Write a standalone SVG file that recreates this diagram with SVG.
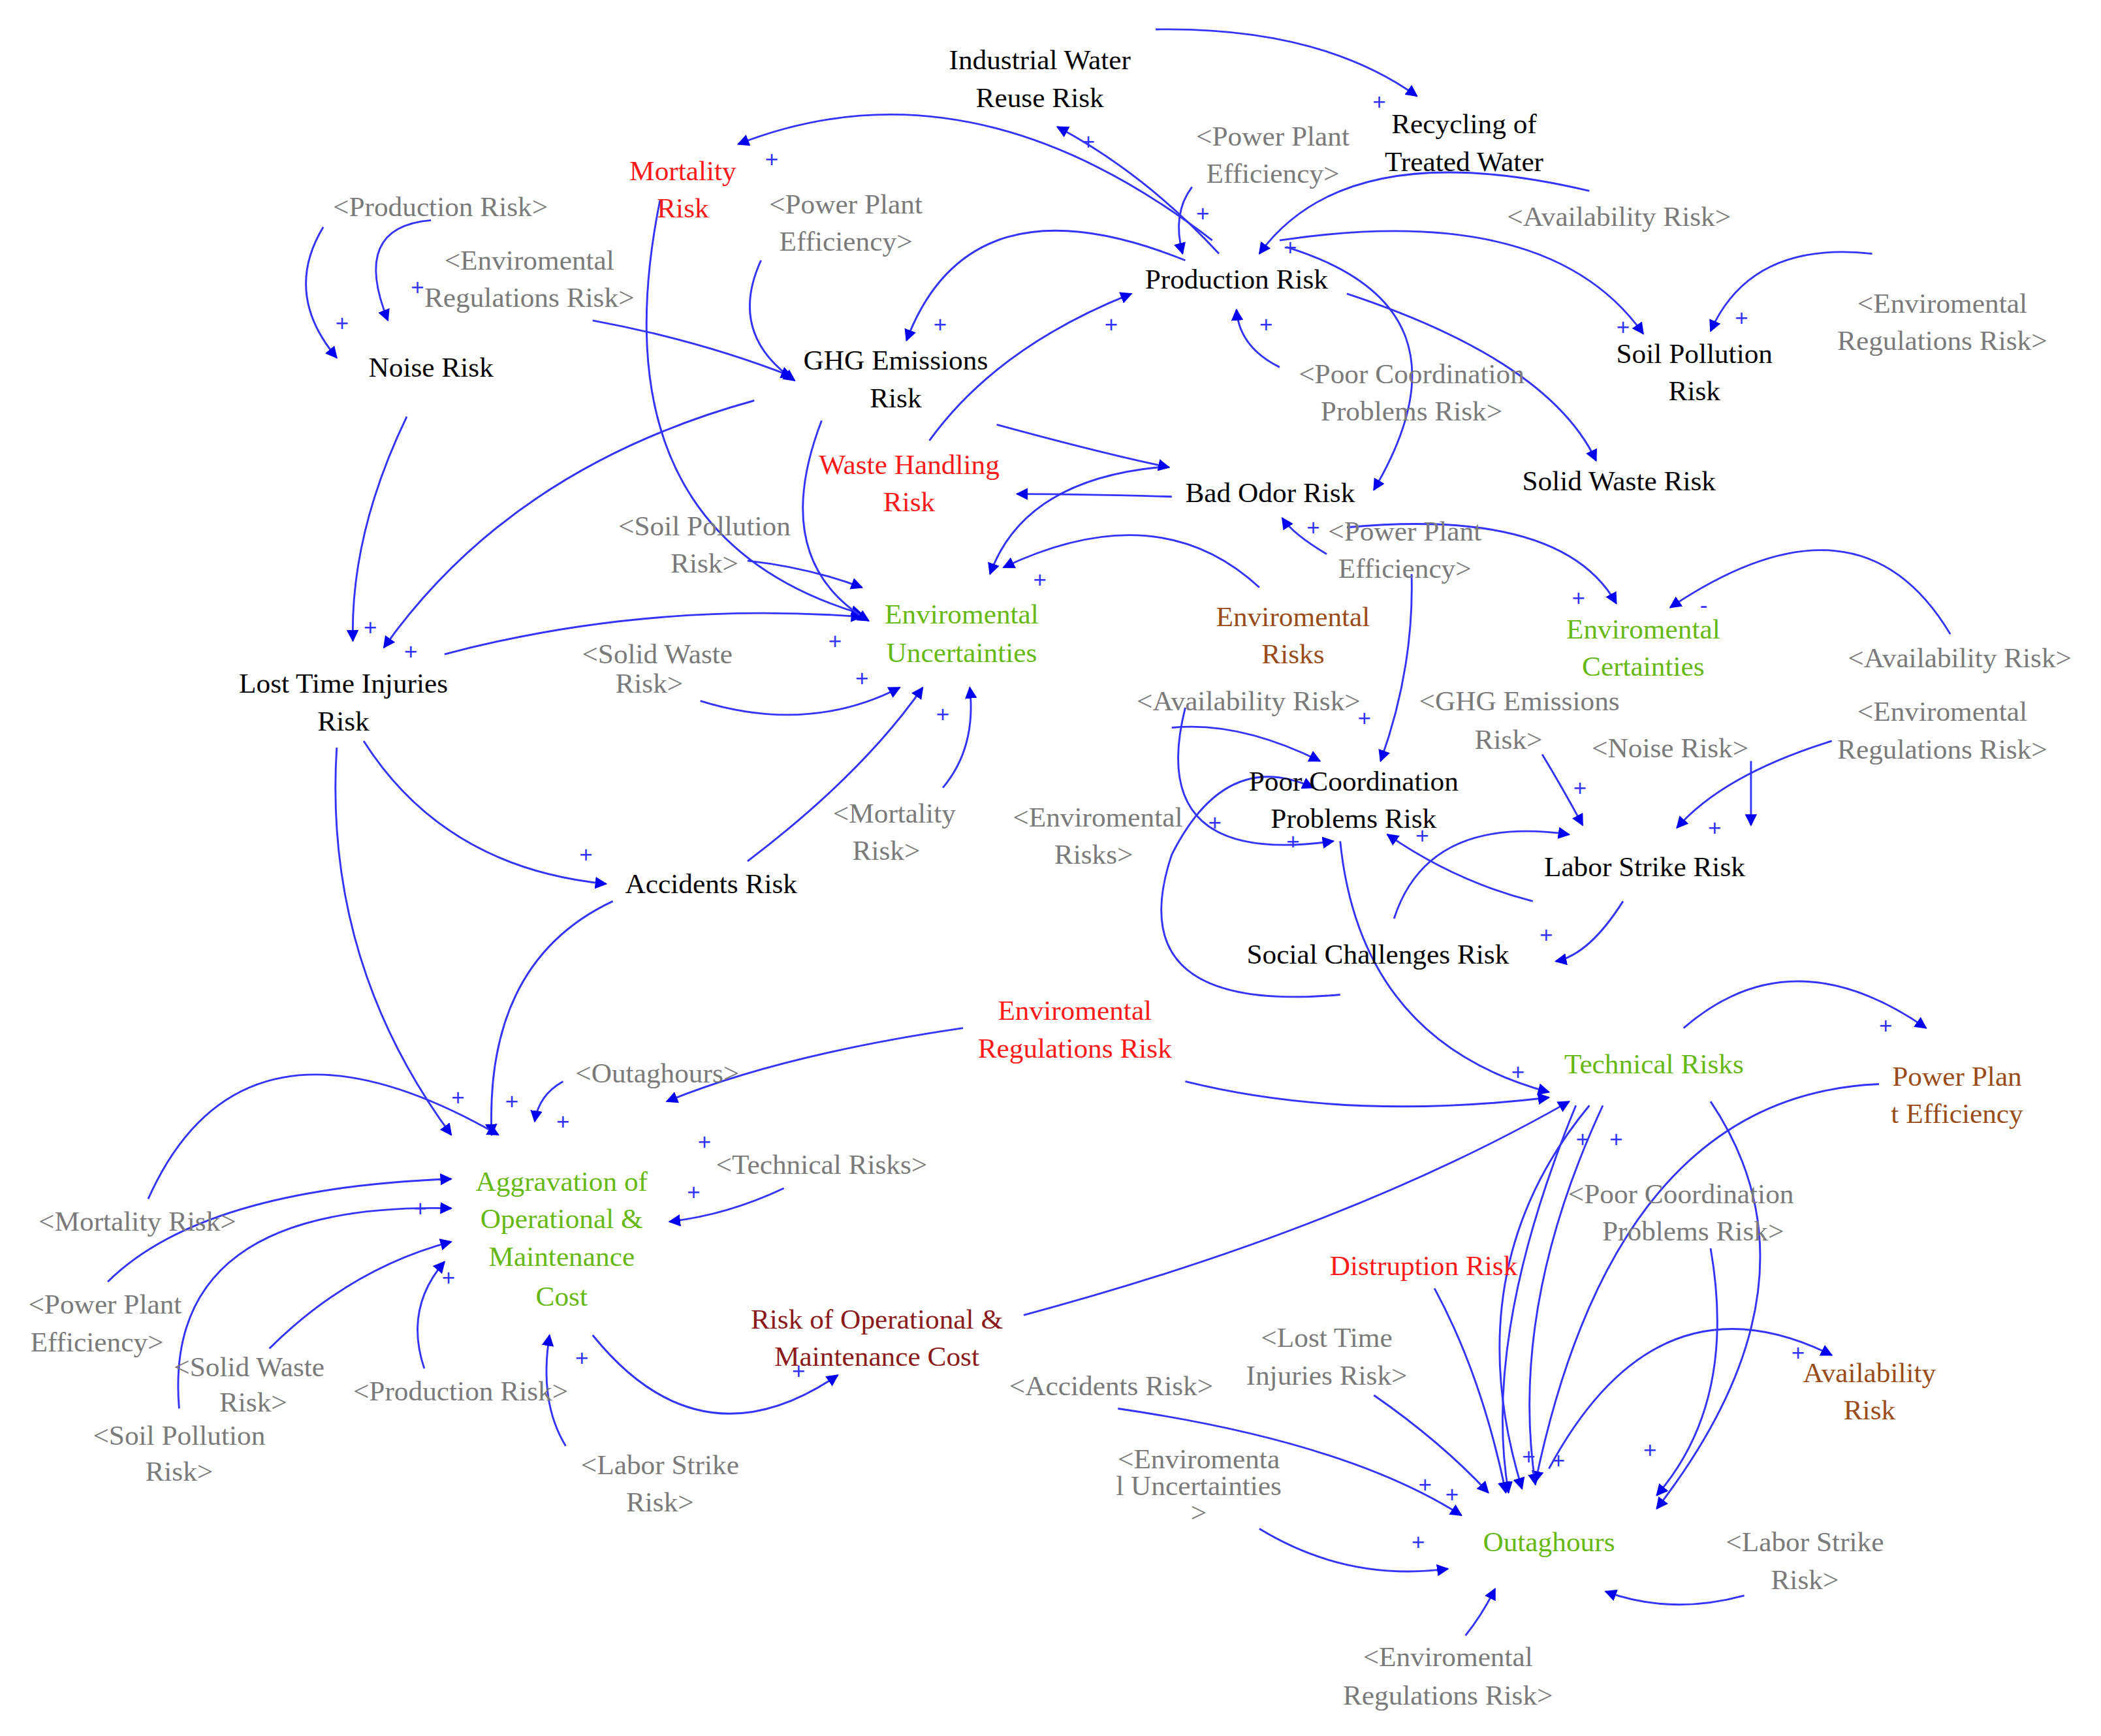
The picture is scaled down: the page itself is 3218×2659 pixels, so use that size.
<svg xmlns="http://www.w3.org/2000/svg" width="3218" height="2659" viewBox="0 0 3218 2659">
<defs>
<marker id="ah" viewBox="0 0 10 10" refX="9" refY="5" markerWidth="9" markerHeight="9" markerUnits="userSpaceOnUse" orient="auto"><path d="M0,0 L10,5 L0,10 z" fill="#0000ee"/></marker>
<style>
text{font-family:"Liberation Serif",serif;font-size:21px;text-anchor:middle}
.k{fill:#000}.r{fill:#ff1a1a}.g{fill:#66b814}.b{fill:#994c1a}.y{fill:#7a7a7a}.d{fill:#8b1a1a}
.c path{fill:none;stroke:#3333ff;stroke-width:1.4;marker-end:url(#ah)}
.p{fill:#3333ff;font-family:"Liberation Sans",sans-serif;font-size:17px}
</style>
</defs>
<rect width="3218" height="2659" fill="#fff"/>
<g transform="scale(2.063,2.045)">
<g id="connectors" class="c">
<path d="M858,22 Q980,20 1052,72"/>
<path d="M905,190 Q850,130 785,95"/>
<path d="M900,180 Q720,40 548,108"/>
<path d="M1180,143 Q1000,100 935,190"/>
<path d="M885,140 Q870,160 878,190"/>
<path d="M880,195 Q720,130 673,255"/>
<path d="M950,180 Q1150,150 1220,250"/>
<path d="M1390,190 Q1300,180 1270,248"/>
<path d="M1000,220 Q1150,270 1185,345"/>
<path d="M955,185 Q1100,230 1020,367"/>
<path d="M950,275 Q920,260 918,232"/>
<path d="M690,330 Q740,260 840,220"/>
<path d="M740,318 Q820,340 868,350"/>
<path d="M870,372 Q800,370 755,370"/>
<path d="M860,350 Q760,360 735,430"/>
<path d="M935,440 Q860,370 745,425"/>
<path d="M985,415 Q960,400 952,388"/>
<path d="M1000,395 Q1160,380 1200,452"/>
<path d="M1448,475 Q1380,360 1240,455"/>
<path d="M490,150 Q440,400 640,460"/>
<path d="M565,195 Q540,250 590,285"/>
<path d="M440,240 Q520,255 588,282"/>
<path d="M240,170 Q210,220 250,268"/>
<path d="M320,165 Q260,170 288,240"/>
<path d="M302,312 Q260,400 262,480"/>
<path d="M560,300 Q380,350 285,485"/>
<path d="M330,490 Q480,450 640,462"/>
<path d="M610,315 Q570,420 645,465"/>
<path d="M555,420 Q600,425 640,440"/>
<path d="M520,525 Q600,550 668,515"/>
<path d="M555,645 Q640,580 685,515"/>
<path d="M700,590 Q725,560 720,515"/>
<path d="M270,555 Q330,650 450,662"/>
<path d="M250,560 Q240,720 335,850"/>
<path d="M455,675 Q360,720 365,850"/>
<path d="M418,810 Q400,820 397,840"/>
<path d="M715,770 Q580,790 495,825"/>
<path d="M582,890 Q540,910 497,915"/>
<path d="M110,898 Q180,740 370,850"/>
<path d="M80,960 Q150,890 335,883"/>
<path d="M133,1055 Q120,900 335,905"/>
<path d="M200,1010 Q260,950 335,930"/>
<path d="M315,1025 Q300,980 330,945"/>
<path d="M420,1083 Q400,1050 408,1000"/>
<path d="M440,1000 Q520,1100 622,1030"/>
<path d="M760,985 Q1000,920 1165,825"/>
<path d="M880,810 Q1000,840 1150,822"/>
<path d="M995,630 Q1010,780 1150,818"/>
<path d="M1250,770 Q1330,700 1430,770"/>
<path d="M1395,812 Q1200,820 1140,1110"/>
<path d="M1180,828 Q1080,950 1130,1115"/>
<path d="M1170,828 Q1100,1000 1120,1118"/>
<path d="M1190,828 Q1120,980 1140,1112"/>
<path d="M1270,825 Q1360,960 1230,1130"/>
<path d="M1150,1100 Q1230,950 1360,1015"/>
<path d="M1270,935 Q1290,1050 1230,1120"/>
<path d="M1065,965 Q1100,1030 1118,1118"/>
<path d="M1020,1045 Q1070,1080 1105,1118"/>
<path d="M830,1055 Q1000,1080 1085,1135"/>
<path d="M935,1145 Q1000,1185 1075,1175"/>
<path d="M1295,1195 Q1240,1210 1192,1192"/>
<path d="M1088,1225 Q1100,1210 1110,1190"/>
<path d="M1205,675 Q1180,715 1155,720"/>
<path d="M1035,688 Q1060,610 1165,625"/>
<path d="M1138,675 Q1080,660 1030,625"/>
<path d="M1145,565 Q1160,590 1175,618"/>
<path d="M1300,570 Q1300,590 1300,618"/>
<path d="M1360,555 Q1280,580 1245,620"/>
<path d="M870,545 Q920,540 980,570"/>
<path d="M880,530 Q850,650 990,630"/>
<path d="M1048,430 Q1050,500 1025,570"/>
<path d="M995,745 Q830,760 870,640 Q910,560 975,590"/>
</g>
<g id="polarity">
<text class="p" x="1024" y="82">+</text><text class="p" x="808" y="112">+</text><text class="p" x="573" y="125">+</text>
<text class="p" x="958" y="191">+</text><text class="p" x="893" y="166">+</text><text class="p" x="698" y="249">+</text>
<text class="p" x="1205" y="251">+</text><text class="p" x="1293" y="244">+</text><text class="p" x="940" y="249">+</text>
<text class="p" x="825" y="249">+</text><text class="p" x="772" y="440">+</text><text class="p" x="975" y="401">+</text>
<text class="p" x="1172" y="454">+</text><text class="p" x="1265" y="459">-</text><text class="p" x="254" y="248">+</text>
<text class="p" x="310" y="221">+</text><text class="p" x="275" y="476">+</text><text class="p" x="305" y="494">+</text>
<text class="p" x="620" y="486">+</text><text class="p" x="640" y="514">+</text><text class="p" x="700" y="541">+</text>
<text class="p" x="435" y="646">+</text><text class="p" x="340" y="828">+</text><text class="p" x="380" y="831">+</text>
<text class="p" x="418" y="846">+</text><text class="p" x="523" y="861">+</text><text class="p" x="515" y="899">+</text>
<text class="p" x="312" y="911">+</text><text class="p" x="333" y="963">+</text><text class="p" x="432" y="1023">+</text>
<text class="p" x="593" y="1033">+</text><text class="p" x="1127" y="809">+</text><text class="p" x="1400" y="774">+</text>
<text class="p" x="1175" y="859">+</text><text class="p" x="1200" y="859">+</text><text class="p" x="1335" y="1019">+</text>
<text class="p" x="1225" y="1092">+</text><text class="p" x="1135" y="1097">+</text><text class="p" x="1157" y="1100">+</text>
<text class="p" x="1058" y="1118">+</text><text class="p" x="1078" y="1125">+</text><text class="p" x="1053" y="1161">+</text>
<text class="p" x="1148" y="706">+</text><text class="p" x="1173" y="596">+</text><text class="p" x="1273" y="626">+</text>
<text class="p" x="960" y="636">+</text><text class="p" x="902" y="622">+</text><text class="p" x="1056" y="632">+</text>
<text class="p" x="1013" y="544">+</text>
</g>
<g id="n1"><text class="k" x="772" y="52">Industrial Water</text><text class="k" x="772" y="80">Reuse Risk</text></g>
<g id="n2"><text class="k" x="1087" y="100">Recycling of</text><text class="k" x="1087" y="128">Treated Water</text></g>
<g id="n3"><text class="r" x="507" y="135">Mortality</text><text class="r" x="507" y="163">Risk</text></g>
<g id="n4"><text class="y" x="945" y="109">&lt;Power Plant</text><text class="y" x="945" y="137">Efficiency&gt;</text></g>
<g id="n5"><text class="y" x="327" y="162">&lt;Production Risk&gt;</text></g>
<g id="n6"><text class="y" x="628" y="160">&lt;Power Plant</text><text class="y" x="628" y="188">Efficiency&gt;</text></g>
<g id="n7"><text class="y" x="393" y="202">&lt;Enviromental</text><text class="y" x="393" y="230">Regulations Risk&gt;</text></g>
<g id="n8"><text class="y" x="1202" y="169">&lt;Availability Risk&gt;</text></g>
<g id="n9"><text class="k" x="918" y="216">Production Risk</text></g>
<g id="n10"><text class="k" x="320" y="282">Noise Risk</text></g>
<g id="n11"><text class="k" x="665" y="277">GHG Emissions</text><text class="k" x="665" y="305">Risk</text></g>
<g id="n12"><text class="k" x="1258" y="272">Soil Pollution</text><text class="k" x="1258" y="300">Risk</text></g>
<g id="n13"><text class="y" x="1442" y="234">&lt;Enviromental</text><text class="y" x="1442" y="262">Regulations Risk&gt;</text></g>
<g id="n14"><text class="y" x="1048" y="287">&lt;Poor Coordination</text><text class="y" x="1048" y="315">Problems Risk&gt;</text></g>
<g id="n15"><text class="r" x="675" y="355">Waste Handling</text><text class="r" x="675" y="383">Risk</text></g>
<g id="n16"><text class="k" x="943" y="376">Bad Odor Risk</text></g>
<g id="n17"><text class="k" x="1202" y="367">Solid Waste Risk</text></g>
<g id="n18"><text class="y" x="523" y="401">&lt;Soil Pollution</text><text class="y" x="523" y="429">Risk&gt;</text></g>
<g id="n19"><text class="y" x="1043" y="405">&lt;Power Plant</text><text class="y" x="1043" y="433">Efficiency&gt;</text></g>
<g id="n20"><text class="g" x="714" y="467">Enviromental</text><text class="g" x="714" y="496">Uncertainties</text></g>
<g id="n21"><text class="b" x="960" y="469">Enviromental</text><text class="b" x="960" y="497">Risks</text></g>
<g id="n22"><text class="g" x="1220" y="478">Enviromental</text><text class="g" x="1220" y="506">Certainties</text></g>
<g id="n23"><text class="y" x="1455" y="500">&lt;Availability Risk&gt;</text></g>
<g id="n24"><text class="k" x="255" y="519">Lost Time Injuries</text><text class="k" x="255" y="547">Risk</text></g>
<g id="n25"><text class="y" x="488" y="497">&lt;Solid Waste</text><text class="y" x="482" y="519">Risk&gt;</text></g>
<g id="n26"><text class="y" x="927" y="532">&lt;Availability Risk&gt;</text></g>
<g id="n27"><text class="y" x="1128" y="532">&lt;GHG Emissions</text><text class="y" x="1120" y="561">Risk&gt;</text></g>
<g id="n28"><text class="y" x="1442" y="540">&lt;Enviromental</text><text class="y" x="1442" y="568">Regulations Risk&gt;</text></g>
<g id="n29"><text class="k" x="1005" y="592">Poor Coordination</text><text class="k" x="1005" y="620">Problems Risk</text></g>
<g id="n30"><text class="y" x="1240" y="567">&lt;Noise Risk&gt;</text></g>
<g id="n31"><text class="y" x="815" y="619">&lt;Enviromental</text><text class="y" x="812" y="647">Risks&gt;</text></g>
<g id="n32"><text class="y" x="664" y="616">&lt;Mortality</text><text class="y" x="658" y="644">Risk&gt;</text></g>
<g id="n33"><text class="k" x="1221" y="656">Labor Strike Risk</text></g>
<g id="n34"><text class="k" x="528" y="669">Accidents Risk</text></g>
<g id="n35"><text class="k" x="1023" y="722">Social Challenges Risk</text></g>
<g id="n36"><text class="r" x="798" y="764">Enviromental</text><text class="r" x="798" y="792">Regulations Risk</text></g>
<g id="n37"><text class="g" x="1228" y="804">Technical Risks</text></g>
<g id="n38"><text class="b" x="1453" y="813">Power Plan</text><text class="b" x="1453" y="841">t Efficiency</text></g>
<g id="n39"><text class="y" x="488" y="811">&lt;Outaghours&gt;</text></g>
<g id="n40"><text class="g" x="417" y="892">Aggravation of</text><text class="g" x="417" y="920">Operational &amp;</text><text class="g" x="417" y="948">Maintenance</text><text class="g" x="417" y="978">Cost</text></g>
<g id="n41"><text class="y" x="610" y="879">&lt;Technical Risks&gt;</text></g>
<g id="n42"><text class="y" x="102" y="922">&lt;Mortality Risk&gt;</text></g>
<g id="n43"><text class="y" x="1248" y="901">&lt;Poor Coordination</text><text class="y" x="1257" y="929">Problems Risk&gt;</text></g>
<g id="n44"><text class="y" x="78" y="984">&lt;Power Plant</text><text class="y" x="72" y="1012">Efficiency&gt;</text></g>
<g id="n45"><text class="r" x="1057" y="955">Distruption Risk</text></g>
<g id="n46"><text class="d" x="651" y="995">Risk of Operational &amp;</text><text class="d" x="651" y="1023">Maintenance Cost</text></g>
<g id="n47"><text class="y" x="185" y="1031">&lt;Solid Waste</text><text class="y" x="188" y="1057">Risk&gt;</text></g>
<g id="n48"><text class="y" x="342" y="1049">&lt;Production Risk&gt;</text></g>
<g id="n49"><text class="y" x="985" y="1009">&lt;Lost Time</text><text class="y" x="985" y="1037">Injuries Risk&gt;</text></g>
<g id="n50"><text class="y" x="825" y="1045">&lt;Accidents Risk&gt;</text></g>
<g id="n51"><text class="b" x="1388" y="1035">Availability</text><text class="b" x="1388" y="1063">Risk</text></g>
<g id="n52"><text class="y" x="133" y="1082">&lt;Soil Pollution</text><text class="y" x="133" y="1109">Risk&gt;</text></g>
<g id="n53"><text class="y" x="490" y="1104">&lt;Labor Strike</text><text class="y" x="490" y="1132">Risk&gt;</text></g>
<g id="n54"><text class="y" x="890" y="1100">&lt;Enviromenta</text><text class="y" x="890" y="1120">l Uncertainties</text><text class="y" x="890" y="1140">&gt;</text></g>
<g id="n55"><text class="g" x="1150" y="1162">Outaghours</text></g>
<g id="n56"><text class="y" x="1340" y="1162">&lt;Labor Strike</text><text class="y" x="1340" y="1190">Risk&gt;</text></g>
<g id="n57"><text class="y" x="1075" y="1248">&lt;Enviromental</text><text class="y" x="1075" y="1277">Regulations Risk&gt;</text></g>
</g>
</svg>
